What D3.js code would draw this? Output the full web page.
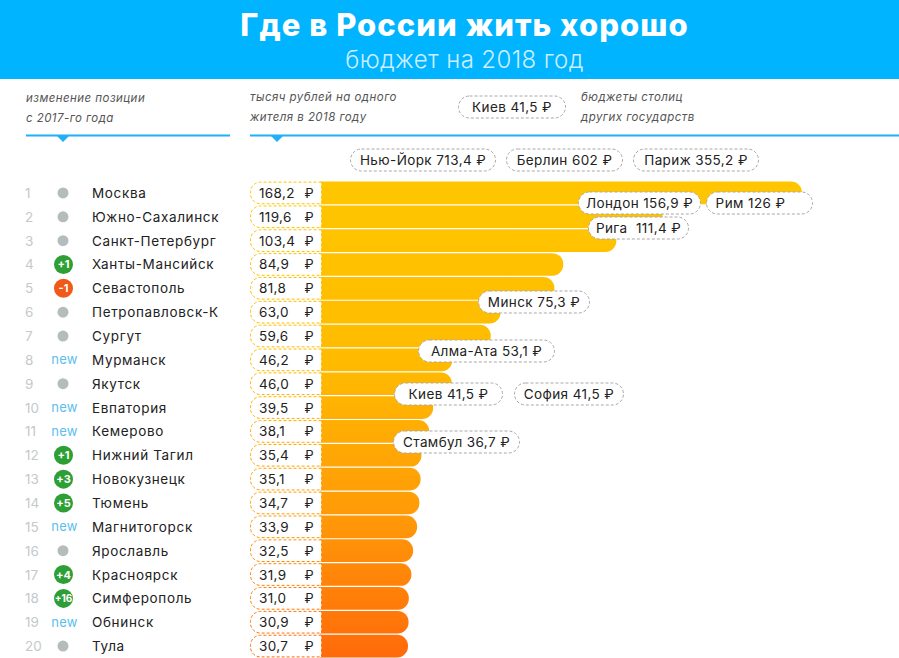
<!DOCTYPE html>
<html>
<head>
<meta charset="utf-8">
<script src="https://cdn.jsdelivr.net/npm/d3@7"></script>
<style>
  html, body { margin: 0; padding: 0; background: #fff; }
  svg { display: block; font-family: Inter, "Noto Sans", sans-serif; }
</style>
</head>
<body>
<svg id="chart" width="899" height="658"></svg>
<script>
const cities = ["Москва", "Южно-Сахалинск", "Санкт-Петербург", "Ханты-Мансийск", "Севастополь",
  "Петропавловск-К", "Сургут", "Мурманск", "Якутск", "Евпатория", "Кемерово", "Нижний Тагил",
  "Новокузнецк", "Тюмень", "Магнитогорск", "Ярославль", "Красноярск", "Симферополь", "Обнинск", "Тула"];
const budgets = [168.2, 119.6, 103.4, 84.9, 81.8, 63.0, 59.6, 46.2, 46.0, 39.5, 38.1, 35.4, 35.1, 34.7, 33.9, 32.5, 31.9, 31.0, 30.9, 30.7];
const changes = ["0", "0", "0", "+1", "-1", "0", "0", "new", "0", "new", "new", "+1", "+3", "+5", "new", "0", "+4", "+16", "new", "0"];

const capitals = ["Киев", "Нью-Йорк", "Берлин", "Париж", "Лондон", "Рим", "Рига", "Минск", "Алма-Ата", "Киев", "София", "Стамбул"];
const capitalBudgets = [41.5, 713.4, 602, 355.2, 156.9, 126, 111.4, 75.3, 53.1, 41.5, 41.5, 36.7];

// where each capital's pill sits: left, right, centre y
const pillBoxes = [[458, 566, 107], [350, 496, 160], [506, 623, 160], [633, 759, 160],
  [578, 701, 203], [706, 813, 203], [588, 689, 228], [478, 590, 302],
  [418, 555, 351], [394, 503, 394], [514, 624, 394], [393, 520, 442]];

const width = 899, height = 658;
const svg = d3.select("#chart");

const x = d3.scaleLinear().domain([0, 168.2]).range([320, 802]);
const y = d3.scaleBand().domain(d3.range(cities.length)).range([181, 658]).paddingInner(0.05).paddingOuter(0.025);

const comma = v => String(v).replace(".", ",");

// Gradient runs over the whole list of bars
const grad = svg.append("defs").append("linearGradient")
  .attr("id", "barGrad")
  .attr("gradientUnits", "userSpaceOnUse")
  .attr("x1", 0).attr("x2", 0)
  .attr("y1", 181).attr("y2", 658);
grad.append("stop").attr("offset", "0%").attr("stop-color", "#ffc600");
grad.append("stop").attr("offset", "38%").attr("stop-color", "#ffbb00");
grad.append("stop").attr("offset", "70%").attr("stop-color", "#ff9a08");
grad.append("stop").attr("offset", "100%").attr("stop-color", "#ff6a0a");

// Header
svg.append("rect").attr("width", width).attr("height", 79).attr("fill", "#00b4ff");
svg.append("text").attr("x", 464.5).attr("y", 36).attr("text-anchor", "middle")
  .attr("fill", "#fff").attr("font-size", 31).attr("font-weight", 800)
  .attr("letter-spacing", 1.05)
  .text("Где в России жить хорошо");
svg.append("text").attr("x", 464.5).attr("y", 68).attr("text-anchor", "middle")
  .attr("fill", "#cdeeff").attr("font-size", 24).attr("font-weight", 300)
  .attr("letter-spacing", 0.4)
  .text("бюджет на 2018 год");

// Column notes
const notes = [
  [26, 102, "изменение позиции"], [26, 122, "с 2017-го года"],
  [250, 101, "тысяч рублей на одного"], [250, 121, "жителя в 2018 году"],
  [581, 101, "бюджеты столиц"], [581, 121, "других государств"]
];
svg.selectAll("text.note").data(notes).enter().append("text")
  .attr("class", "note")
  .attr("x", d => d[0]).attr("y", d => d[1])
  .attr("fill", "#555").attr("font-size", 11.5).attr("font-style", "italic")
  .attr("letter-spacing", 0.45)
  .text(d => d[2]);

// Rules with small arrows
[[26, 230, 63], [250, 899, 277]].forEach(r => {
  svg.append("line").attr("x1", r[0]).attr("x2", r[1]).attr("y1", 135.5).attr("y2", 135.5)
    .attr("stroke", "#1fb0f5").attr("stroke-width", 2);
  svg.append("path").attr("d", `M${r[2] - 6},136 L${r[2] + 6},136 L${r[2]},142 Z`).attr("fill", "#1fb0f5");
});

// Bars, square on the left and round on the right
const barPath = (x0, x1, y0, h) => {
  const r = Math.min(11, x1 - x0);
  const p = d3.path();
  p.moveTo(x0, y0);
  p.lineTo(x1 - r, y0);
  p.arcTo(x1, y0, x1, y0 + r, r);
  p.lineTo(x1, y0 + h - r);
  p.arcTo(x1, y0 + h, x1 - r, y0 + h, r);
  p.lineTo(x0, y0 + h);
  p.closePath();
  return p.toString();
};

svg.append("g").selectAll("path").data(budgets).enter().append("path")
  .attr("d", (d, i) => barPath(x(0), x(d), y(i), y.bandwidth()))
  .attr("fill", "url(#barGrad)");

// Value boxes, round on the left and square on the right
const boxPath = (x0, x1, y0, h) => {
  const r = 10;
  const p = d3.path();
  p.moveTo(x1, y0);
  p.lineTo(x0 + r, y0);
  p.arcTo(x0, y0, x0, y0 + r, r);
  p.lineTo(x0, y0 + h - r);
  p.arcTo(x0, y0 + h, x0 + r, y0 + h, r);
  p.lineTo(x1, y0 + h);
  p.closePath();
  return p.toString();
};

const rows = svg.append("g").selectAll("g").data(cities).enter().append("g");
const cy = i => y(i) + y.bandwidth() / 2;

rows.append("path")
  .attr("d", (d, i) => boxPath(250.5, 321.5, y(i) + 0.5, y.bandwidth() - 1))
  .attr("fill", "#fff")
  .attr("stroke", "url(#barGrad)")
  .attr("stroke-width", 1)
  .attr("stroke-dasharray", "3 2");

rows.append("text")
  .attr("x", 259).attr("y", (d, i) => cy(i) + 5)
  .attr("fill", "#222").attr("font-size", 13.5).attr("letter-spacing", 0.35)
  .text((d, i) => budgets[i].toFixed(1).replace(".", ","));

rows.append("text")
  .attr("x", 309).attr("y", (d, i) => cy(i) + 5)
  .attr("text-anchor", "middle")
  .attr("fill", "#222").attr("font-size", 13)
  .text("₽");

rows.append("text")
  .attr("x", 25).attr("y", (d, i) => cy(i) + 5)
  .attr("fill", "#c4c9ca").attr("font-size", 13.5)
  .text((d, i) => i + 1);

rows.append("text")
  .attr("x", 92).attr("y", (d, i) => cy(i) + 5)
  .attr("fill", "#222").attr("font-size", 13.5).attr("letter-spacing", 0.65)
  .text(d => d);

// Position change markers
rows.each(function(d, i) {
  const g = d3.select(this);
  const c = changes[i];
  if (c === "new") {
    g.append("text").attr("x", 64.5).attr("y", cy(i) + 4.5).attr("text-anchor", "middle")
      .attr("fill", "#5cc0ee").attr("font-size", 13).attr("letter-spacing", 0.2).text("new");
  } else if (c === "0") {
    g.append("circle").attr("cx", 63).attr("cy", cy(i)).attr("r", 5.5).attr("fill", "#b4bcbc");
  } else {
    g.append("circle").attr("cx", 63.5).attr("cy", cy(i)).attr("r", 9.5)
      .attr("fill", c[0] === "-" ? "#f15a16" : "#2e9f35");
    g.append("text").attr("x", 63.5).attr("y", cy(i) + 4).attr("text-anchor", "middle")
      .attr("fill", "#fff").attr("font-weight", 700).attr("font-size", c.length > 2 ? 10 : 11)
      .text(c);
  }
});

// Capital pills
const pills = svg.append("g").selectAll("g").data(capitals).enter().append("g");
pills.append("rect")
  .attr("x", (d, i) => pillBoxes[i][0] + 0.5)
  .attr("y", (d, i) => pillBoxes[i][2] - 11)
  .attr("width", (d, i) => pillBoxes[i][1] - pillBoxes[i][0] - 1)
  .attr("height", 22)
  .attr("rx", 11)
  .attr("fill", "#fff")
  .attr("stroke", "#a8a8a8")
  .attr("stroke-dasharray", "3 2");
pills.append("text")
  .attr("x", (d, i) => (pillBoxes[i][0] + pillBoxes[i][1]) / 2 - (d === "Рим" ? 9 : 0))
  .attr("y", (d, i) => pillBoxes[i][2] + 5)
  .attr("text-anchor", "middle")
  .attr("fill", "#222").attr("font-size", 13.5).attr("letter-spacing", 0.4)
  .text((d, i) => `${d}${d === "Рига" ? "\u00a0\u00a0" : " "}${comma(capitalBudgets[i])} ₽`);
</script>
</body>
</html>
